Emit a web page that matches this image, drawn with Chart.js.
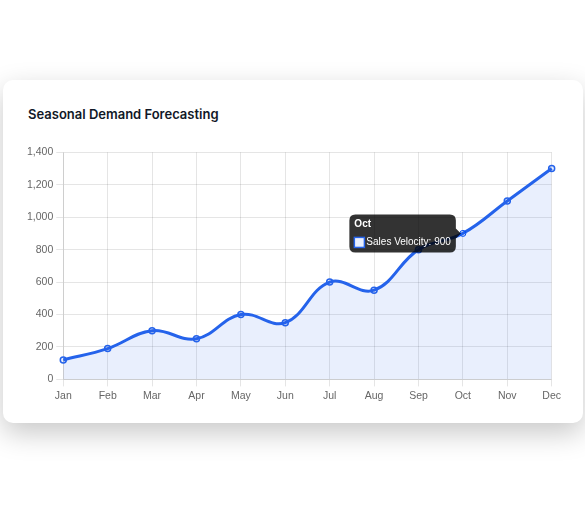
<!DOCTYPE html>
<html>
<head>
<meta charset="utf-8">
<script src="https://cdn.jsdelivr.net/npm/chart.js@4.4.0/dist/chart.umd.min.js"></script>
<style>
  html, body { margin: 0; padding: 0; background: #fff; }
  body { width: 585px; height: 505px; position: relative; overflow: hidden; }
  .card {
    position: absolute; left: 3px; top: 80px; width: 580px; height: 343px;
    background: #fff; border-radius: 10px;
    box-shadow: 0 10px 28px rgba(0,0,0,0.22);
  }
  .card h3 {
    position: absolute; left: 25px; top: 26px; margin: 0;
    font-family: Inter, sans-serif; font-weight: 600; font-size: 13px; color: #111827;
  }
  .wrap { position: absolute; left: 21px; top: 63px; width: 540px; height: 262px; }
</style>
</head>
<body>
<div class="card">
  <h3>Seasonal Demand Forecasting</h3>
  <div class="wrap"><canvas id="grafico"></canvas></div>
</div>
<script>
const meses = ["Jan", "Feb", "Mar", "Apr", "May", "Jun", "Jul", "Aug", "Sep", "Oct", "Nov", "Dec"];
const ventas = [120, 190, 300, 250, 400, 350, 600, 550, 800, 900, 1100, 1300];

Chart.defaults.font.size = 10.5;
Chart.defaults.color = "#666";

const chart = new Chart(document.getElementById("grafico"), {
  type: "line",
  data: {
    labels: meses,
    datasets: [{
      label: "Sales Velocity",
      data: ventas,
      borderColor: "#2563eb",
      backgroundColor: "rgba(37, 99, 235, 0.1)",
      pointBackgroundColor: "rgba(37, 99, 235, 0.1)",
      borderWidth: 3,
      fill: true,
      tension: 0.4,
      pointRadius: 3,
      pointBorderWidth: 1.5,
      pointHoverRadius: 3
    }]
  },
  options: {
    responsive: true,
    maintainAspectRatio: false,
    animation: false,
    plugins: {
      legend: { display: false },
      tooltip: {
        padding: { x: 5, y: 4 },
        titleFont: { size: 10, weight: "bold" },
        bodyFont: { size: 10 }
      }
    },
    scales: {
      x: { grid: { tickLength: 7 } },
      y: { beginAtZero: true, max: 1400, ticks: { stepSize: 200 }, grid: { tickLength: 7 } }
    }
  }
});

// tooltip activo en Oct
const i = meses.indexOf("Oct");
const el = chart.getDatasetMeta(0).data[i];
chart.setActiveElements([{ datasetIndex: 0, index: i }]);
chart.tooltip.setActiveElements([{ datasetIndex: 0, index: i }], { x: el.x, y: el.y });
chart.update();
</script>
</body>
</html>
